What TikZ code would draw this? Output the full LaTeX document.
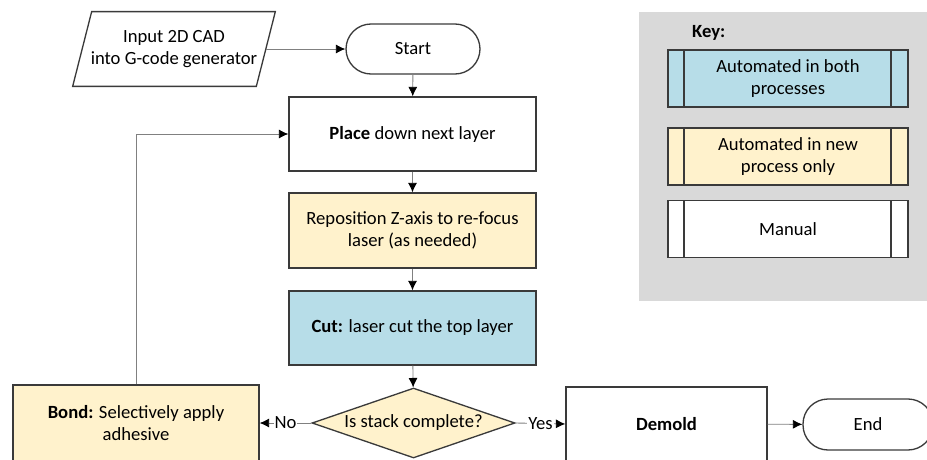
\documentclass[tikz,border=0pt]{standalone}
\usepackage{fontspec}
\setmainfont{Carlito}
\usetikzlibrary{shapes.geometric,arrows.meta}
\definecolor{autoboth}{HTML}{B7DDE8}
\definecolor{autonew}{HTML}{FFF2CC}
\definecolor{keygray}{HTML}{D9D9D9}
\definecolor{edge}{HTML}{3A3A3A}
\tikzset{
  txt/.style={font=\fontsize{10.6}{12.6}\selectfont},
  base/.style={txt,draw=edge,line width=0.75pt,align=center,inner sep=0pt},
  proc/.style={base,rectangle,minimum width=4.94cm,minimum height=1.48cm},
  both/.style={fill=autoboth},
  newonly/.style={fill=autonew},
  term/.style={base,rectangle,rounded corners=0.5cm,minimum height=1.0cm},
  decision/.style={base,diamond,aspect=2.9,minimum width=4.06cm,minimum height=1.4cm,fill=autonew},
  keybox/.style={base,rectangle,minimum width=4.8cm,minimum height=1.14cm,
    path picture={
      \draw[edge,line width=0.75pt] ([xshift=0.32cm]path picture bounding box.north west) -- ([xshift=0.32cm]path picture bounding box.south west);
      \draw[edge,line width=0.75pt] ([xshift=-0.34cm]path picture bounding box.north east) -- ([xshift=-0.34cm]path picture bounding box.south east);
    }},
  flow/.style={draw=gray,line width=0.5pt,-{Latex[length=0.19cm,width=0.18cm,color=black]}},
  lbl/.style={txt,fill=white,inner sep=0.5pt}
}
\begin{document}
\begin{tikzpicture}[x=0.02cm,y=-0.02cm]
  \useasboundingbox (0,0) rectangle (927,460);
  % key
  \fill[keygray] (639,12) rectangle (927,301);
  \node[txt,anchor=west,font=\fontsize{10.6}{12.6}\selectfont\bfseries] (keytitle) at (686,33) {Key:};
  \node[keybox,both] (keyboth) at (788,78.5) {Automated in both\\processes};
  \node[keybox,newonly] (keynew) at (788,156.5) {Automated in new\\process only};
  \node[keybox,fill=white] (keyman) at (788,229) {Manual};
  % flow chart
  \node[txt,align=center,minimum width=3.66cm,minimum height=1.48cm,inner sep=0pt] (input) at (174,49) {Input 2D CAD\\into G-code generator};
  \draw[edge,line width=0.75pt] ([xshift=0.19cm]input.north west) -- ([xshift=0.19cm]input.north east)
    -- ([xshift=-0.19cm]input.south east) -- ([xshift=-0.19cm]input.south west) -- cycle;
  \node[term,minimum width=2.68cm] (start) at (413,49) {Start};
  \node[proc] (place) at (412.5,134) {\textbf{Place} down next layer};
  \node[proc,newonly,minimum height=1.5cm] (repos) at (412.5,230.5) {Reposition Z-axis to re-focus\\laser (as needed)};
  \node[proc,both] (cut) at (412.5,328) {\textbf{Cut:} laser cut the top layer};
  \node[decision] (stack) at (413.5,423) {Is stack complete?};
  \node[proc,newonly,minimum width=4.92cm,minimum height=1.52cm] (bond) at (136,423) {\textbf{Bond:} Selectively apply\\adhesive};
  \node[proc,minimum width=4.02cm] (demold) at (666.5,424) {\textbf{Demold}};
  \node[term,minimum width=2.6cm,minimum height=1.02cm] (end) at (868,424.5) {End};
  % connectors
  \draw[flow] (input.east) -- (start.west);
  \draw[flow] (start) -- (place);
  \draw[flow] (place) -- (repos);
  \draw[flow] (repos) -- (cut);
  \draw[flow] (cut) -- (stack);
  \draw[flow] (stack.west) -- node[lbl] (no) {No} (bond.east);
  \draw[flow] (stack.east) -- node[lbl] (yes) {Yes} (demold.west);
  \draw[flow] (demold) -- (end);
  \draw[flow] (bond.north) |- (place.west);
\end{tikzpicture}
\end{document}
